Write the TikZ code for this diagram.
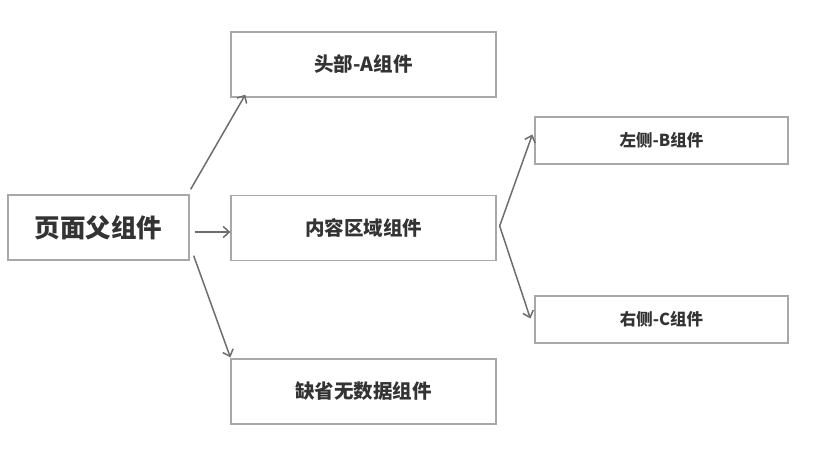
\documentclass[tikz,border=0pt]{standalone}
\usepackage{fontspec}
\setmainfont{Noto Sans CJK SC}
\usetikzlibrary{arrows.meta,calc}
\definecolor{boxline}{HTML}{A8A8A8}
\definecolor{arrowc}{HTML}{6E6E6E}
\definecolor{txt}{HTML}{333333}
\tikzset{
  box/.style={draw=boxline, line width=1.3pt, rectangle, inner sep=0pt, text=txt, font=\bfseries\fontsize{19.5}{22}\selectfont},
  bigbox/.style={box, minimum width=181pt, minimum height=65pt, font=\bfseries\fontsize{25.5}{28}\selectfont},
  midbox/.style={box, minimum width=265pt, minimum height=65pt},
  smallbox/.style={box, minimum width=253pt, minimum height=47pt, font=\bfseries\fontsize{16.5}{19}\selectfont},
  conn/.style={draw=arrowc, line width=1.5pt, -{Straight Barb[length=6pt,width=11pt,line width=1.5pt]}}
}
\begin{document}
\begin{tikzpicture}[x=1pt,y=-1pt]
\useasboundingbox[fill=white] (0,0) rectangle (813,449);
\node[bigbox] (p) at (98.5,227.5) {页面父组件};
\node[midbox] (a) at (363.5,64.5) {头部-A组件};
\node[midbox] (m) at (363.5,228) {内容区域组件};
\node[midbox] (d) at (363.5,391.5) {缺省无数据组件};
\node[smallbox] (b) at (661.5,140.5) {左侧-B组件};
\node[smallbox] (c) at (661.5,319.5) {右侧-C组件};
\coordinate (ps1) at ($(p.north east)+(1,-5)$);
\coordinate (ps2) at ($(p.east)+(5,4.5)$);
\coordinate (ps3) at ($(p.south east)+(4,-5)$);
\coordinate (ms) at ($(m.east)+(3,-2)$);
\path[conn] (ps1) -- ($(a.south west)+(15,-3)$);
\path[conn] (ps2) -- ($(m.west)+(0,4)$);
\path[conn] (ps3) -- ($(d.north west)+(0,-1)$);
\path[conn] (ms) -- ($(b.west)+(-2,-6)$);
\path[conn] (ms) -- ($(c.west)+(-4,-1)$);
\end{tikzpicture}
\end{document}
